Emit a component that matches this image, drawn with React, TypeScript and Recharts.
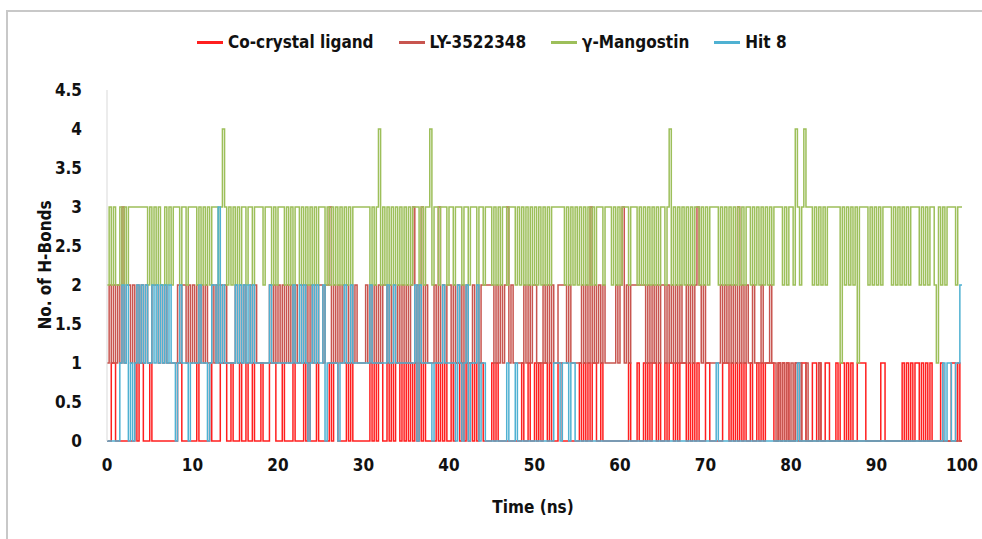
import { LineChart, Line, XAxis, YAxis } from "recharts";

// one character = one sample, 0.25 ns apart, groups of 2.5 ns
const coCrystal = [
  "0011000000", "0001011000", "1000000000", "0001100000",
  "0010000010", "0001110010", "0010010010", "0010001110",
  "0010000100", "0010100010", "0000101100", "0010100000",
  "0001010110", "0101011010", "1010101010", "0000101010",
  "0101101010", "1010110000", "1010000000", "0000100100",
  "1010110100", "0110000000", "0101010110", "0100000000",
  "0000100010", "0101011010", "0101101011", "1010101000",
  "1100000011", "1010101010", "0100101011", "1100101010",
  "0011011000", "1101001100", "0101101010", "0111100000",
  "0011000000", "0010101011", "0101010000", "1000011010",
  "0",
];

const ly3522348 = [
  "1212121312", "2121212121", "1222121211", "1112122121",
  "2121212112", "1212121111", "2121211212", "1111112121",
  "2121212121", "1212121212", "2122312121", "2121212111",
  "1212121212", "2121212121", "2123121312", "1112131212",
  "2121212121", "1212122222", "2121212312", "1111121212",
  "2111212121", "1222212111", "1121213121", "2121111121",
  "2312122222", "2212121212", "2121212121", "1212123212",
  "1111111212", "1212131212", "1121112111", "2110101010",
  "1010100100", "0001000000", "0000000000", "0000000000",
  "0000000000", "0000000000", "0000000000", "0000000000",
  "0",
];

const gammaMangostin = [
  "2323223232", "3333333332", "3232322323", "2333233233",
  "3323232323", "3323432323", "2323323323", "3332333232",
  "3332323233", "2323232323", "3323232323", "2323233333",
  "3332323423", "2323232323", "2323332323", "3423323332",
  "3323332332", "3332332333", "2323233233", "3232323232",
  "3232323233", "3333232323", "2323232323", "3323332323",
  "2333233323", "2323232323", "3234232323", "2323233232",
  "3233332323", "2323232323", "3232323232", "3233332323",
  "3243234333", "2323232333", "3331323232", "3133332323",
  "2323333232", "3232323333", "2323233213", "2323333233",
  "3",
];

const hit8 = [
  "0000001212", "0101212121", "1212121212", "1101211101",
  "1112111012", "2131211111", "2121212121", "1111112111",
  "1111111211", "2121012121", "1201111101", "1211211111",
  "1112111111", "1211211111", "1111202111", "1101111211",
  "1110210120", "1112011000", "0000000100", "0100000000",
  "0000000001", "1101110110", "0000000000", "0000000000",
  "0000000000", "0000000000", "0000000000", "0000000000",
  "0000010000", "0000000000", "0000000000", "0000000000",
  "0001000000", "0000000000", "0000000000", "0000000000",
  "0000000000", "0000000000", "0000000000", "0101100112",
  "2",
];

const xTicks = [0, 10, 20, 30, 40, 50, 60, 70, 80, 90, 100];
const yTicks = [0, 0.5, 1, 1.5, 2, 2.5, 3, 3.5, 4, 4.5];

const series = [
  { key: "co", name: "Co-crystal ligand", color: "#FF1F1F" },
  { key: "ly", name: "LY-3522348", color: "#C8554F" },
  { key: "gm", name: "γ-Mangostin", color: "#9DBF5A" },
  { key: "hit", name: "Hit 8", color: "#4FB1D2" },
];

const parse = (groups: string[]) => groups.join("").split("").map(Number);
const co = parse(coCrystal);
const ly = parse(ly3522348);
const gm = parse(gammaMangostin);
const hit = parse(hit8);

const data = co.map((v, i) => ({
  t: i * 0.25,
  co: v,
  ly: ly[i],
  gm: gm[i],
  hit: hit[i],
}));

const font = "'Liberation Sans Narrow', 'DejaVu Sans Condensed', sans-serif";

export default function App() {
  return (
    <div
      style={{
        position: "fixed",
        left: 0,
        top: 0,
        width: 982,
        height: 539,
        background: "#fff",
        overflow: "hidden",
        fontFamily: font,
      }}
    >
      {/* frame */}
      <div
        style={{
          position: "absolute",
          left: 6,
          top: 10,
          width: 1000,
          height: 600,
          border: "2px solid #c8c8c8",
        }}
      />

      {/* legend */}
      <div
        style={{
          position: "absolute",
          left: 197,
          top: 32,
          display: "flex",
          gap: 25,
          fontWeight: "bold",
          fontSize: 17,
          color: "#111",
        }}
      >
        {series.map((s) => (
          <div key={s.key} style={{ display: "flex", alignItems: "center", gap: 5 }}>
            <div style={{ width: 26, height: 3, background: s.color }} />
            <span>{s.name}</span>
          </div>
        ))}
      </div>

      <div style={{ position: "absolute", left: 0, top: 0 }}>
        <LineChart
          width={982}
          height={539}
          data={data}
          margin={{ top: 90, right: 20, bottom: 68, left: 47 }}
        >
          <XAxis
            dataKey="t"
            type="number"
            domain={[0, 100]}
            ticks={xTicks}
            tickLine={false}
            axisLine={false}
            tickMargin={12}
            height={30}
            tick={{ fill: "#111", fontSize: 17, fontWeight: "bold", fontFamily: font }}
          />
          <YAxis
            type="number"
            domain={[0, 4.5]}
            ticks={yTicks}
            tickLine={false}
            axisLine={{ stroke: "#d9d9d9" }}
            tickMargin={19}
            width={60}
            tick={{ fill: "#111", fontSize: 17, fontWeight: "bold", fontFamily: font }}
          />
          {series.map((s) => (
            <Line
              key={s.key}
              dataKey={s.key}
              name={s.name}
              type="stepAfter"
              stroke={s.color}
              strokeWidth={1.5}
              dot={false}
              activeDot={false}
              isAnimationActive={false}
            />
          ))}
        </LineChart>
      </div>

      {/* axis titles */}
      <div
        style={{
          position: "absolute",
          left: 45,
          top: 265,
          transform: "translate(-50%, -50%) rotate(-90deg)",
          whiteSpace: "nowrap",
          fontWeight: "bold",
          fontSize: 17,
          color: "#111",
        }}
      >
        No. of H-Bonds
      </div>
      <div
        style={{
          position: "absolute",
          left: 533,
          top: 507,
          transform: "translate(-50%, -50%)",
          whiteSpace: "nowrap",
          fontWeight: "bold",
          fontSize: 17,
          color: "#111",
        }}
      >
        Time (ns)
      </div>
    </div>
  );
}
